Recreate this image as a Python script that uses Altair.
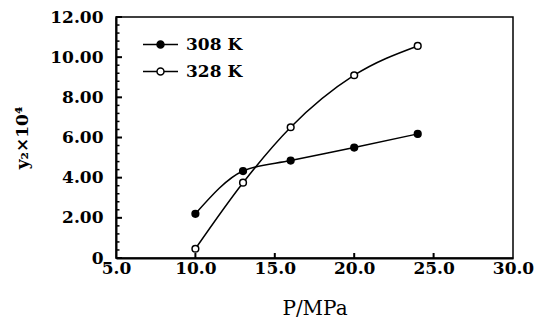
import altair as alt
import pandas as pd

# data
series_names = ["308 K", "328 K"]
p_308 = [10.0, 13.0, 16.0, 20.0, 24.0]
y_308 = [2.20, 4.33, 4.85, 5.50, 6.18]
p_328 = [10.0, 13.0, 16.0, 20.0, 24.0]
y_328 = [0.46, 3.75, 6.51, 9.10, 10.56]

x_ticks = [5, 10, 15, 20, 25, 30]
x_inner_ticks = [10, 15, 20, 25]
y_ticks = [0, 2, 4, 6, 8, 10, 12]
y_minor_ticks = [0.4, 0.8, 1.2, 1.6, 2.4, 2.8, 3.2, 3.6, 4.4, 4.8, 5.2, 5.6,
                 6.4, 6.8, 7.2, 7.6, 8.4, 8.8, 9.2, 9.6, 10.4, 10.8, 11.2, 11.6]

df = pd.DataFrame({
    "P": p_308 + p_328,
    "y": y_308 + y_328,
    "series": [series_names[0]] * len(p_308) + [series_names[1]] * len(p_328),
})

W, H = 397, 241
FONT = "DejaVu Serif"

xscale = alt.Scale(domain=[5, 30], nice=False, zero=False)
yscale = alt.Scale(domain=[0, 12], nice=False)

xaxis = alt.Axis(values=x_ticks, format=".1f", ticks=False, grid=False, labelFlush=False,
                 domainColor="black", domainWidth=2, labelPadding=2,
                 labelFont=FONT, labelFontSize=17, labelFontWeight="bold",
                 labelColor="black", title="P/MPa", titleFont=FONT,
                 titleFontSize=20, titleFontWeight="normal", titleColor="black",
                 titlePadding=22)
yaxis = alt.Axis(values=y_ticks, ticks=False, grid=False, labelFlush=False,
                 labelExpr="datum.value == 0 ? '0' : format(datum.value, '.2f')",
                 domainColor="black", domainWidth=2, labelPadding=13,
                 labelFont=FONT, labelFontSize=17, labelFontWeight="bold",
                 labelColor="black", title="y₂×10⁴", titleFont=FONT,
                 titleFontSize=17, titleFontWeight="bold", titleColor="black",
                 titlePadding=18)

lines = alt.Chart(df).mark_line(color="black", strokeWidth=1.5, interpolate="monotone").encode(
    x=alt.X("P:Q", scale=xscale, axis=xaxis, title="P/MPa"),
    y=alt.Y("y:Q", scale=yscale, axis=yaxis, title="y₂×10⁴"),
    detail="series:N",
)

legend_path = ("M -1 0 L -0.2 0 M 0.2 0 L 1 0 "
               "M 0.2 0 A 0.2 0.2 0 1 1 -0.2 0 A 0.2 0.2 0 1 1 0.2 0 Z")

points = alt.Chart(df).mark_point(filled=True, size=45, stroke="black", strokeWidth=1.5, opacity=1).encode(
    x=alt.X("P:Q", scale=xscale, axis=xaxis, title="P/MPa"),
    y=alt.Y("y:Q", scale=yscale, axis=yaxis, title="y₂×10⁴"),
    fill=alt.Fill("series:N", scale=alt.Scale(domain=series_names, range=["black", "white"]),
                  legend=alt.Legend(title=None, orient="none", legendX=26, legendY=9,
                                    symbolType=legend_path, symbolSize=1225,
                                    symbolStrokeColor="black", symbolStrokeWidth=1.5,
                                    labelFont=FONT, labelFontSize=17, labelFontWeight="bold",
                                    labelColor="black", labelOffset=7, rowPadding=0)),
)

# inward tick marks
ymaj = alt.Chart(pd.DataFrame({"v": y_ticks})).mark_rule(color="black", strokeWidth=2).encode(
    y=alt.Y("v:Q", scale=yscale, axis=yaxis, title="y₂×10⁴"), x=alt.value(0), x2=alt.value(6))
ymin = alt.Chart(pd.DataFrame({"v": y_minor_ticks})).mark_rule(color="black", strokeWidth=1.5).encode(
    y=alt.Y("v:Q", scale=yscale, axis=yaxis, title="y₂×10⁴"), x=alt.value(0), x2=alt.value(3.5))
xmaj = alt.Chart(pd.DataFrame({"v": x_inner_ticks})).mark_rule(color="black", strokeWidth=2).encode(
    x=alt.X("v:Q", scale=xscale, axis=xaxis, title="P/MPa"), y=alt.value(H), y2=alt.value(H - 5))

chart = alt.layer(lines, ymaj, ymin, xmaj, points).properties(
    width=W, height=H,
    padding={"left": 116, "top": 17, "right": 22, "bottom": 64},
    autosize=alt.AutoSizeParams(type="none"),
).configure_view(stroke="black", strokeWidth=1.5)

chart.save("out.html", embed_options={"renderer": "svg", "actions": False})
